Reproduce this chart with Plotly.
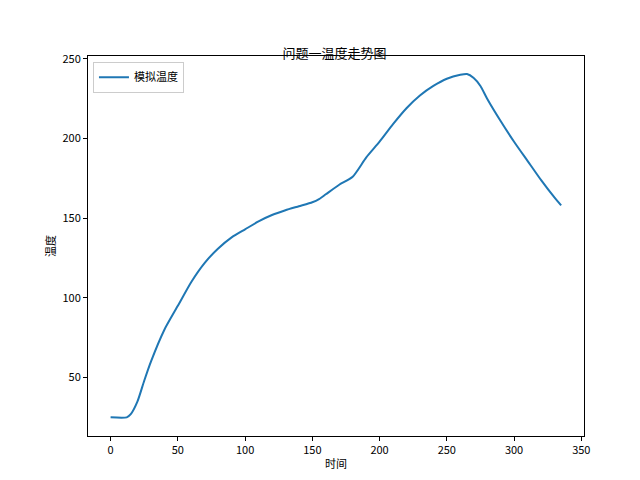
import plotly.graph_objects as go

# time (x) and simulated temperature (y)
time = [0, 12, 15, 20, 25, 30, 40, 50, 60, 70, 80, 90, 100, 110, 120, 130, 140, 150, 155,
        160, 170, 180, 190, 200, 210, 220, 230, 240, 250, 260, 265, 270, 275, 280, 290,
        300, 310, 320, 330, 335]
temp = [25, 25, 27, 35, 48, 60, 80, 95, 110, 122, 131, 138, 143, 148, 152, 155, 157.5, 160, 162,
        165, 171, 176, 188, 198, 209, 219, 227, 233, 237.5, 240, 240.5, 238, 233, 225, 211,
        198, 186, 174, 163, 158]

font = "Noto Sans CJK SC"

fig = go.Figure(go.Scatter(x=time, y=temp, mode="lines", name="模拟温度",
                           line=dict(color="#1f77b4", width=2, shape="spline", smoothing=0.6)))

axis = dict(showgrid=False, zeroline=False, showline=True, linecolor="black", linewidth=1,
            mirror=True, ticks="outside", ticklen=4, tickcolor="black", automargin=False,
            tickfont=dict(size=11, color="black"))

fig.update_layout(
    width=640, height=480,
    paper_bgcolor="white", plot_bgcolor="white",
    font=dict(family=font, color="black"),
    title=dict(text="问题一温度走势图", x=0.51, xanchor="center", y=0.915, font=dict(size=13),
               automargin=False),
    margin=dict(l=80, r=64, t=48, b=52),
    xaxis=dict(axis, range=[-16.8, 352], tickvals=[0, 50, 100, 150, 200, 250, 300, 350],
               title=dict(text="时间", font=dict(size=11), standoff=4)),
    yaxis=dict(axis, range=[13.3, 251.8], tickvals=[50, 100, 150, 200, 250],
               title=dict(text="温度", font=dict(size=11), standoff=4)),
    legend=dict(x=0.01, y=0.985, xanchor="left", yanchor="top", bgcolor="white",
                bordercolor="#cccccc", borderwidth=1, font=dict(size=11),
                tracegroupgap=0, itemwidth=30),
    showlegend=True,
)

fig.write_html("out.html")
